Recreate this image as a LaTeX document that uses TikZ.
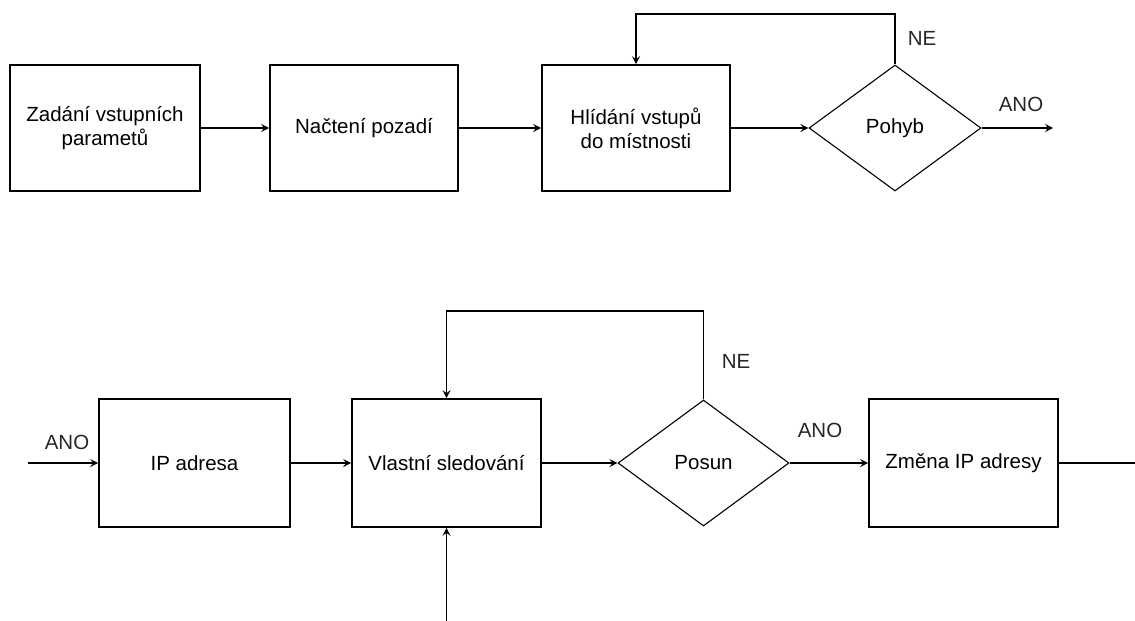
\documentclass[tikz,border=0pt]{standalone}
\usepackage{fontspec}
\setmainfont{Liberation Sans}
\usetikzlibrary{shapes.geometric,arrows.meta}
\begin{document}
\begin{tikzpicture}[x=1pt,y=-1pt,
  every node/.style={font=\fontsize{20.5}{24}\selectfont},
  procbox/.style={draw,line width=1.6pt,inner sep=0pt,align=center},
  decision/.style={draw,line width=1.1pt,shape=diamond,inner sep=0pt,aspect=1.365},
  lbl/.style={text=black!85,inner sep=0pt},
  conn/.style={line width=1.6pt,-{Stealth[length=8pt,width=8pt,inset=3pt]}},
  plainconn/.style={line width=1.6pt}]
\useasboundingbox (0,0) rectangle (1135,621);
% top row
\node[procbox,minimum width=190,minimum height=126] (b1) at (105,128) {Zadání vstupních\\parametů};
\node[procbox,minimum width=188,minimum height=126] (b2) at (364,128) {Načtení pozadí};
\node[procbox,minimum width=188,minimum height=126] (b3) at (636,128) {Hlídání vstupů\\do místnosti};
\node[decision,minimum width=172,minimum height=126] (d1) at (895,128) {Pohyb};
\coordinate (e1) at (1053,128);
\coordinate (t1) at (895,14);
\node[lbl] (ne1) at (922,38) {NE};
\node[lbl] (ano1) at (1021,104) {ANO};
\draw[conn] (b1) -- (b2);
\draw[conn] (b2) -- (b3);
\draw[conn] (b3) -- (d1);
\draw[conn] (d1) -- (e1);
\draw[conn] (d1.north) -- (t1) -| (b3.north);
% bottom row
\node[procbox,minimum width=191,minimum height=128] (c1) at (194.5,463) {IP adresa};
\node[procbox,minimum width=189,minimum height=128] (c2) at (446.5,463) {Vlastní sledování};
\node[decision,minimum width=171,minimum height=126] (d2) at (703.5,463) {Posun};
\node[procbox,minimum width=189,minimum height=128] (c3) at (963.5,463) {Změna IP adresy};
\coordinate (s2) at (28,463);
\coordinate (e2) at (1136,463);
\coordinate (t2) at (703.5,311);
\coordinate (u2) at (446.5,622);
\node[lbl] (ano0) at (67,442) {ANO};
\node[lbl] (ne2) at (736,361) {NE};
\node[lbl] (ano2) at (820,430) {ANO};
\draw[conn] (s2) -- (c1);
\draw[conn] (c1) -- (c2);
\draw[conn] (c2) -- (d2);
\draw[conn] (d2) -- (c3);
\draw[plainconn] (c3) -- (e2);
\draw[conn] (d2.north) -- (t2) -| (c2.north);
\draw[conn] (u2) -- (c2.south);
\end{tikzpicture}
\end{document}
